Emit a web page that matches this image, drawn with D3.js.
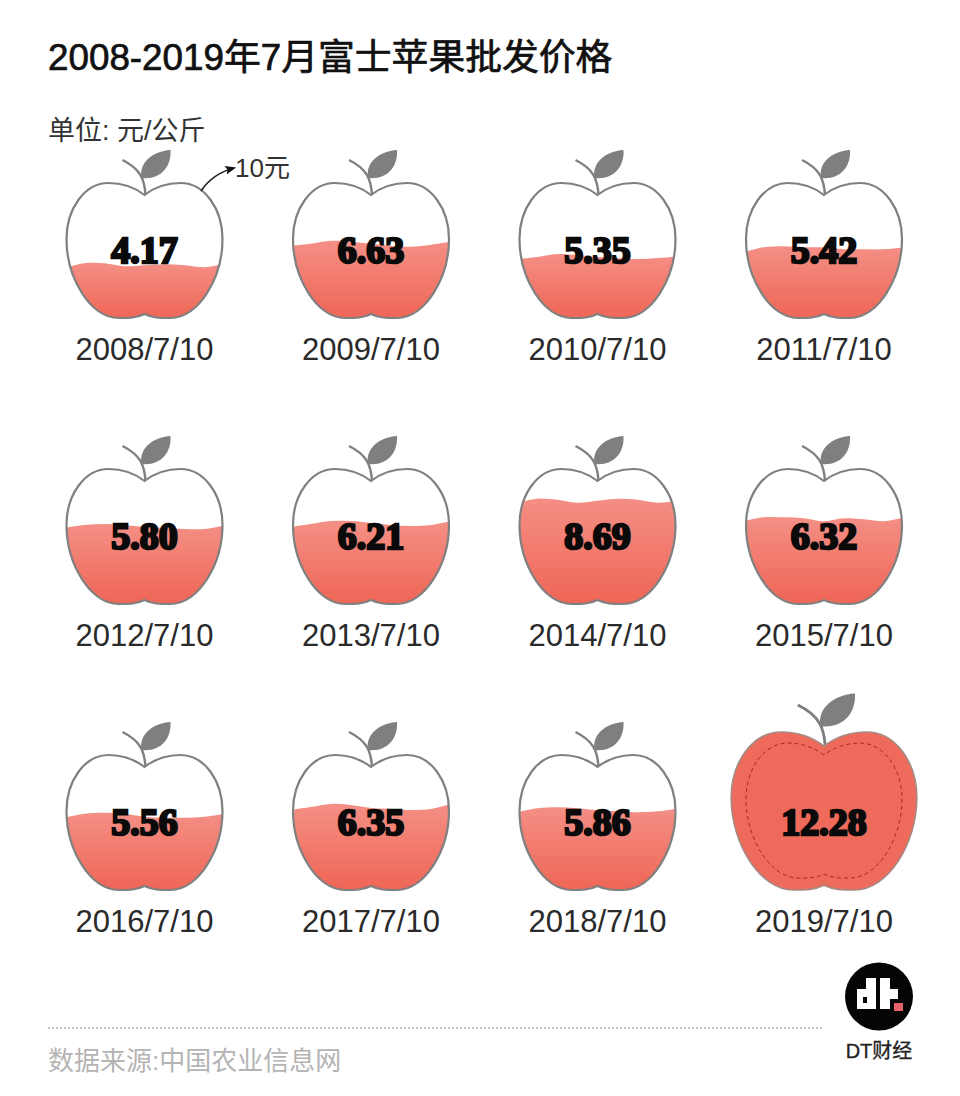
<!DOCTYPE html>
<html><head><meta charset="utf-8">
<script src="https://cdn.jsdelivr.net/npm/d3@7/dist/d3.min.js"></script>
<style>html,body{margin:0;padding:0;background:#fff}svg{display:block}</style>
</head><body><svg id="c" width="960" height="1096"></svg>
<script>
const dates = ["2008/7/10","2009/7/10","2010/7/10","2011/7/10","2012/7/10","2013/7/10","2014/7/10","2015/7/10","2016/7/10","2017/7/10","2018/7/10","2019/7/10"];
const prices = [4.17,6.63,5.35,5.42,5.80,6.21,8.69,6.32,5.56,6.35,5.86,12.28];
const surfaceOffsets = [
 [3,-2,-2,1,0,-1,0,2,-2],
 [8,6,3,4,6,8,9,7,4],
 [7,5,2,3,5,6,7,6,4],
 [1,-4,-5,-4,-4,-2,-2,-2,-4],
 [-5,-8,-9,-8,-6,-5,-4,-4,-8],
 [-1.5,-4.5,-7.5,-7.5,-5.5,-3.5,-2.5,-3.5,-7.5],
 [2,-2,-1,2,0,-2,-1,2,0],
 [-6,-10,-10,-9,-6,-9,-8,-6,-10],
 [-4,-8,-9,-8,-5,-4,-4,-5,-8],
 [-3,-6,-9,-8,-5,-4,-3,-4,-9],
 [-6,-10,-11,-10,-8,-7,-6,-7,-10],
 []
];
const fullMark = 10;
const titleText = "2008-2019年7月富士苹果批发价格";
const unitText = "单位: 元/公斤";
const refText = "10元";
const sourceText = "数据来源:中国农业信息网";
const brandText = "DT财经";

const svg = d3.select("#c");
const defs = svg.append("defs");
const APPLE = "M0,12 C-9,5 -22,0 -36,0 C-60,0 -78,26 -78,56 C-78,95 -54,135 -26,135 C-15,135 -8,135 0,131 C8,135 15,135 26,135 C54,135 78,95 78,56 C78,26 60,0 36,0 C22,0 9,5 0,12 Z";
const STEM = "M1,12 C0,-4 -4,-14 -22,-23";
const LEAF = "M-3,-5 C-6,-20 8,-32 26,-33 C27,-16 16,-3 -3,-5 Z";

const col = d3.scalePoint().domain([0,1,2,3]).range([144.5,824]);
const row = d3.scalePoint().domain([0,1,2]).range([183,755]);
const level = d3.scaleLinear().domain([0,fullMark]).range([129,17]);
const waveX = d3.scalePoint().domain(d3.range(9)).range([-78,78]);
const fmt = d3.format(".2f");

const grad = defs.append("linearGradient").attr("id","juice").attr("x1",0).attr("x2",0).attr("y1",0).attr("y2",1);
grad.append("stop").attr("offset","0%").attr("stop-color","#f48f85");
grad.append("stop").attr("offset","100%").attr("stop-color","#ef6353");
defs.append("clipPath").attr("id","appleClip").append("path").attr("d",APPLE);
const mk = defs.append("marker").attr("id","arrow").attr("viewBox","0 0 10 10").attr("refX",8).attr("refY",5)
  .attr("markerWidth",11).attr("markerHeight",11).attr("markerUnits","userSpaceOnUse").attr("orient","auto");
mk.append("path").attr("d","M0,1 L10,5 L0,9 L2,5 Z").attr("fill","#111");

const CJK = "'Liberation Sans','Noto Sans CJK SC',sans-serif";
svg.append("text").attr("x",48).attr("y",70).attr("font-family",CJK).attr("font-size",36.8).attr("fill","#111").attr("stroke","#111").attr("stroke-width",0.7).text(titleText);
svg.append("text").attr("x",48).attr("y",140).attr("font-family",CJK).attr("font-size",27).attr("fill","#333").text(unitText);

const items = dates.map((d,i)=>({d,v:prices[i],off:surfaceOffsets[i],c:i%4,r:Math.floor(i/4)}));
const area = d3.area().x((o,i)=>waveX(i)*1.03).y0(140).y1(o=>o).curve(d3.curveCatmullRom.alpha(0.5));
const g = svg.selectAll("g.apple").data(items).join("g").attr("class","apple");
g.each(function(o){
  const s = d3.select(this);
  const over = o.v > fullMark;
  const cx = col(o.c), ty = row(o.r);
  if(over){
    const big = s.append("g").attr("transform",`translate(${cx},732) scale(1.19,1.17)`);
    big.append("path").attr("d",STEM).attr("fill","none").attr("stroke","#808080").attr("stroke-width",2.4);
    big.append("path").attr("d",LEAF).attr("fill","#7f7f7f");
    big.append("path").attr("d",APPLE).attr("fill","#ee6a5b").attr("stroke","#a58a84").attr("stroke-width",1.4);
    s.append("path").attr("transform",`translate(${cx},743)`).attr("d",APPLE).attr("fill","none").attr("stroke","#b3261a").attr("stroke-width",1).attr("stroke-dasharray","4 3");
  } else {
    const a = s.append("g").attr("transform",`translate(${cx},${ty})`);
    a.append("path").attr("d",STEM).attr("fill","none").attr("stroke","#808080").attr("stroke-width",2.4);
    a.append("path").attr("d",LEAF).attr("fill","#7f7f7f");
    a.append("path").attr("d",APPLE).attr("fill","#fff");
    a.append("g").attr("clip-path","url(#appleClip)").append("path")
      .attr("d",area(o.off.map(k=>level(o.v)+k))).attr("fill","url(#juice)");
    a.append("path").attr("d",APPLE).attr("fill","none").attr("stroke","#808080").attr("stroke-width",2.2);
  }
  s.append("text").attr("x",cx).attr("y",over?835:ty+80).attr("text-anchor","middle")
    .attr("font-family","'Liberation Serif',serif").attr("font-weight",700).attr("font-size",38)
    .attr("fill","#0a0a0a").attr("stroke","#0a0a0a").attr("stroke-width",2.5).text(fmt(o.v));
  s.append("text").attr("x",cx).attr("y",ty+177).attr("text-anchor","middle")
    .attr("font-family","'Liberation Sans',sans-serif").attr("font-size",31).attr("fill","#2a2a2a").text(o.d);
});

svg.append("path").attr("d","M201,191 C209,179 219,172 234,168").attr("fill","none").attr("stroke","#222").attr("stroke-width",1.5).attr("marker-end","url(#arrow)");
svg.append("text").attr("x",235).attr("y",177).attr("font-family",CJK).attr("font-size",26).attr("fill","#333").text(refText);

svg.append("line").attr("x1",48).attr("x2",823).attr("y1",1028).attr("y2",1028).attr("stroke","#888").attr("stroke-width",1).attr("stroke-dasharray","2 2");
svg.append("text").attr("x",48).attr("y",1070).attr("font-family",CJK).attr("font-size",26).attr("fill","#b4b4b4").text(sourceText);

const logo = svg.append("g");
logo.append("circle").attr("cx",879).attr("cy",996.5).attr("r",34).attr("fill","#050505");
[[857,989,19,20],[866,978,10,31],[880,978,10,31],[880,989,18,10]].forEach(r=>logo.append("rect").attr("x",r[0]).attr("y",r[1]).attr("width",r[2]).attr("height",r[3]).attr("fill","#fff"));
logo.append("rect").attr("x",863).attr("y",997).attr("width",4).attr("height",6).attr("fill","#050505");
logo.append("rect").attr("x",894).attr("y",1003).attr("width",9).attr("height",8).attr("fill","#e8606a");
svg.append("text").attr("x",879).attr("y",1058).attr("text-anchor","middle").attr("font-family",CJK).attr("font-size",20).attr("fill","#222").attr("stroke","#222").attr("stroke-width",0.3).text(brandText);
</script></body></html>
